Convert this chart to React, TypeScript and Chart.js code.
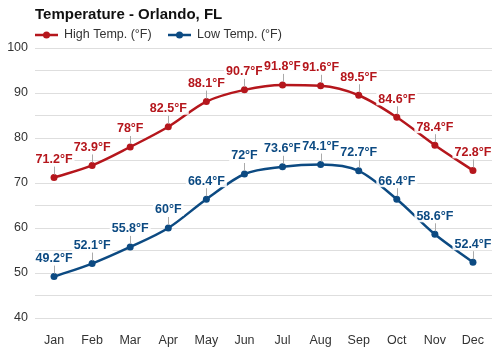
import React, { useEffect, useRef } from "react";
import { Chart, registerables } from "chart.js";

Chart.register(...registerables);

const months = ["Jan", "Feb", "Mar", "Apr", "May", "Jun", "Jul", "Aug", "Sep", "Oct", "Nov", "Dec"];
const highTemps = [71.2, 73.9, 78, 82.5, 88.1, 90.7, 91.8, 91.6, 89.5, 84.6, 78.4, 72.8];
const lowTemps = [49.2, 52.1, 55.8, 60, 66.4, 72, 73.6, 74.1, 72.7, 66.4, 58.6, 52.4];
const titleText = "Temperature - Orlando, FL";
const seriesNames = ["High Temp. (°F)", "Low Temp. (°F)"];

const RED = "#b5161c";
const BLUE = "#0c4a82";
const FONT = "'Liberation Sans', Arial, sans-serif";

const headerPlugin = {
  id: "header",
  afterDraw(chart: any) {
    const ctx = chart.ctx;
    ctx.save();
    ctx.fillStyle = "#111";
    ctx.font = `bold 15px ${FONT}`;
    ctx.textBaseline = "middle";
    ctx.textAlign = "left";
    ctx.fillText(titleText, 35, 15);
    const items = [
      { x: 35, color: RED, text: seriesNames[0] },
      { x: 168, color: BLUE, text: seriesNames[1] },
    ];
    ctx.font = `12.5px ${FONT}`;
    for (const it of items) {
      ctx.strokeStyle = it.color;
      ctx.lineWidth = 2.5;
      ctx.beginPath();
      ctx.moveTo(it.x, 35);
      ctx.lineTo(it.x + 23, 35);
      ctx.stroke();
      ctx.fillStyle = it.color;
      ctx.beginPath();
      ctx.arc(it.x + 11.5, 35, 3.5, 0, Math.PI * 2);
      ctx.fill();
      ctx.fillStyle = "#333";
      ctx.fillText(it.text, it.x + 29, 35);
    }
    ctx.restore();
  },
};

const labelPlugin = {
  id: "pointLabels",
  afterDatasetsDraw(chart: any) {
    const ctx = chart.ctx;
    ctx.save();
    ctx.font = `bold 12.5px ${FONT}`;
    ctx.textAlign = "center";
    ctx.textBaseline = "middle";
    chart.data.datasets.forEach((ds: any, di: number) => {
      const meta = chart.getDatasetMeta(di);
      meta.data.forEach((pt: any, i: number) => {
        const x = pt.x;
        const y = pt.y;
        ctx.strokeStyle = "#aaa";
        ctx.lineWidth = 1;
        ctx.beginPath();
        ctx.moveTo(Math.round(x) + 0.5, y - 3);
        ctx.lineTo(Math.round(x) + 0.5, y - 11);
        ctx.stroke();
        const txt = ds.data[i] + "°F";
        const w = ctx.measureText(txt).width;
        ctx.fillStyle = "rgba(255,255,255,0.9)";
        ctx.fillRect(x - w / 2 - 2, y - 25, w + 4, 13);
        ctx.fillStyle = ds.borderColor;
        ctx.fillText(txt, x, y - 18);
      });
    });
    ctx.restore();
  },
};

export default function App() {
  const ref = useRef<HTMLCanvasElement>(null);
  useEffect(() => {
    document.body.style.margin = "0";
    const chart = new Chart(ref.current!, {
      type: "line",
      data: {
        labels: months,
        datasets: [
          {
            label: seriesNames[0],
            data: highTemps,
            borderColor: RED,
            backgroundColor: RED,
            borderWidth: 2.5,
            pointRadius: 3.5,
            pointBackgroundColor: RED,
            pointBorderWidth: 0,
            cubicInterpolationMode: "monotone",
          },
          {
            label: seriesNames[1],
            data: lowTemps,
            borderColor: BLUE,
            backgroundColor: BLUE,
            borderWidth: 2.5,
            pointRadius: 3.5,
            pointBackgroundColor: BLUE,
            pointBorderWidth: 0,
            cubicInterpolationMode: "monotone",
          },
        ],
      },
      options: {
        animation: false,
        responsive: false,
        layout: { padding: { top: 48, right: 8, left: 0, bottom: 0 } },
        plugins: {
          legend: { display: false },
          title: { display: false },
          tooltip: { enabled: false },
        },
        scales: {
          x: {
            offset: true,
            grid: { display: false },
            border: { display: false },
            ticks: { font: { family: FONT, size: 12.5 }, color: "#333", padding: 7 },
            afterFit(scale: any) {
              scale.height = 32;
            },
          },
          y: {
            min: 40,
            max: 100,
            grid: { color: "#dedede", drawTicks: false },
            border: { display: false },
            ticks: {
              stepSize: 5,
              padding: 7,
              font: { family: FONT, size: 12.5 },
              color: "#333",
              callback: (v: any) => (v % 10 === 0 ? String(v) : ""),
            },
            afterFit(scale: any) {
              scale.width = 35;
            },
          },
        },
      },
      plugins: [headerPlugin, labelPlugin],
    });
    return () => chart.destroy();
  }, []);
  return (
    <div style={{ width: 500, height: 350 }}>
      <canvas ref={ref} width={500} height={350} />
    </div>
  );
}
